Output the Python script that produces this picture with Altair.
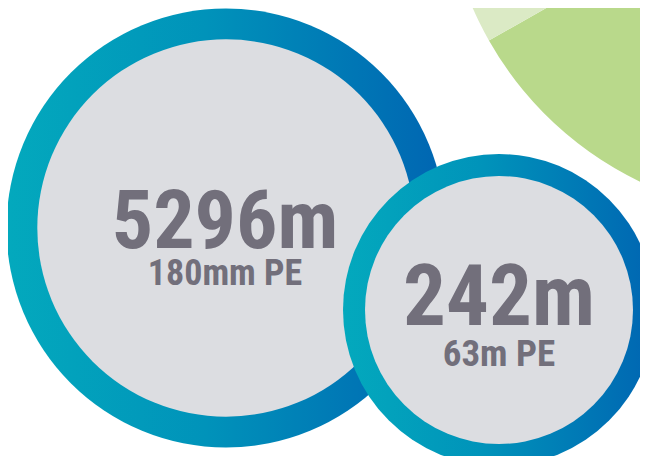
import altair as alt
import pandas as pd

# ---- data -------------------------------------------------------------
lengths = [5296, 242]                 # metres of pipe
length_units = ["m", "m"]
pipe_labels = ["180mm PE", "63m PE"]

pie_names = ["main", "other"]         # background pie (partly visible)
pie_shares = [66.8, 33.2]
pie_colors = ["#B9D98B", "#DBEAC5"]

# ---- layout (page pixels) ---------------------------------------------
circle_cx = [226, 499]
circle_cy = [228, 310]
outer_r = [219.5, 156]
inner_r = [188.7, 134]
num_font = [82, 85]
num_baseline = [248, 325]
lab_font = [36, 37]
lab_baseline = [285, 366]
text_cx = [225, 499]

pie_cx, pie_cy, pie_r = 790, -130, 346

W, H = 632, 448
xs = alt.Scale(domain=[8, 8 + W], range=[0, W], nice=False, zero=False)
ys = alt.Scale(domain=[8, 8 + H], range=[0, H], nice=False, zero=False)

TEXT_COLOR = "#726F7B"
FONT = "Roboto Condensed, Open Sans Condensed, DejaVu Sans Condensed, Liberation Sans Narrow, Arial Narrow, Roboto"

ring_fill = alt.LinearGradient(
    gradient="linear",
    stops=[alt.GradientStop(color="#03A9BD", offset=0),
           alt.GradientStop(color="#0093BA", offset=0.45),
           alt.GradientStop(color="#0065B2", offset=1)],
    x1=0, x2=1, y1=0, y2=0,
)

# Vega circle symbols: size = (diameter)^2
circles = pd.DataFrame({
    "cx": circle_cx, "cy": circle_cy,
    "outer_area": [(2 * r) ** 2 for r in outer_r],
    "inner_area": [(2 * r) ** 2 for r in inner_r],
    "num": [f"{v}{u}" for v, u in zip(lengths, length_units)],
    "label": pipe_labels,
    "tx": text_cx,
    "num_y": num_baseline, "lab_y": lab_baseline,
    "num_size": num_font, "lab_size": lab_font,
})

pie = pd.DataFrame({
    "name": pie_names, "share": pie_shares, "idx": list(range(len(pie_names))),
    "cx": [pie_cx] * len(pie_names), "cy": [pie_cy] * len(pie_names),
})

X = lambda f: alt.X(f"{f}:Q", scale=xs, axis=None)
Y = lambda f: alt.Y(f"{f}:Q", scale=ys, axis=None)

pie_layer = alt.Chart(pie).mark_arc(radius=pie_r, stroke=None).encode(
    theta=alt.Theta("share:Q", stack=True),
    order=alt.Order("idx:Q"),
    color=alt.Color("name:N", scale=alt.Scale(domain=pie_names, range=pie_colors), legend=None),
    x=X("cx"), y=Y("cy"),
)

layers = [pie_layer]
for i in range(len(lengths)):
    d = circles.iloc[[i]]
    ring = alt.Chart(d).mark_circle(fill=ring_fill, opacity=1, stroke=None).encode(
        x=X("cx"), y=Y("cy"), size=alt.Size("outer_area:Q", scale=None))
    inner = alt.Chart(d).mark_circle(fill="#DCDDE1", opacity=1, stroke=None).encode(
        x=X("cx"), y=Y("cy"), size=alt.Size("inner_area:Q", scale=None))
    layers += [ring, inner]

num_text = alt.Chart(circles).mark_text(
    font=FONT, fontWeight="bold", align="center", baseline="alphabetic", color=TEXT_COLOR
).encode(x=X("tx"), y=Y("num_y"), text="num:N", size=alt.Size("num_size:Q", scale=None))

lab_text = alt.Chart(circles).mark_text(
    font=FONT, fontWeight="bold", align="center", baseline="alphabetic", color=TEXT_COLOR
).encode(x=X("tx"), y=Y("lab_y"), text="label:N", size=alt.Size("lab_size:Q", scale=None))

layers += [num_text, lab_text]

chart = alt.layer(*layers).properties(
    width=W, height=H, padding=0, background="white",
    autosize=alt.AutoSizeParams(type="none"),
).configure_view(stroke=None)

chart.save("out.html", embed_options={"renderer": "svg", "actions": False})
